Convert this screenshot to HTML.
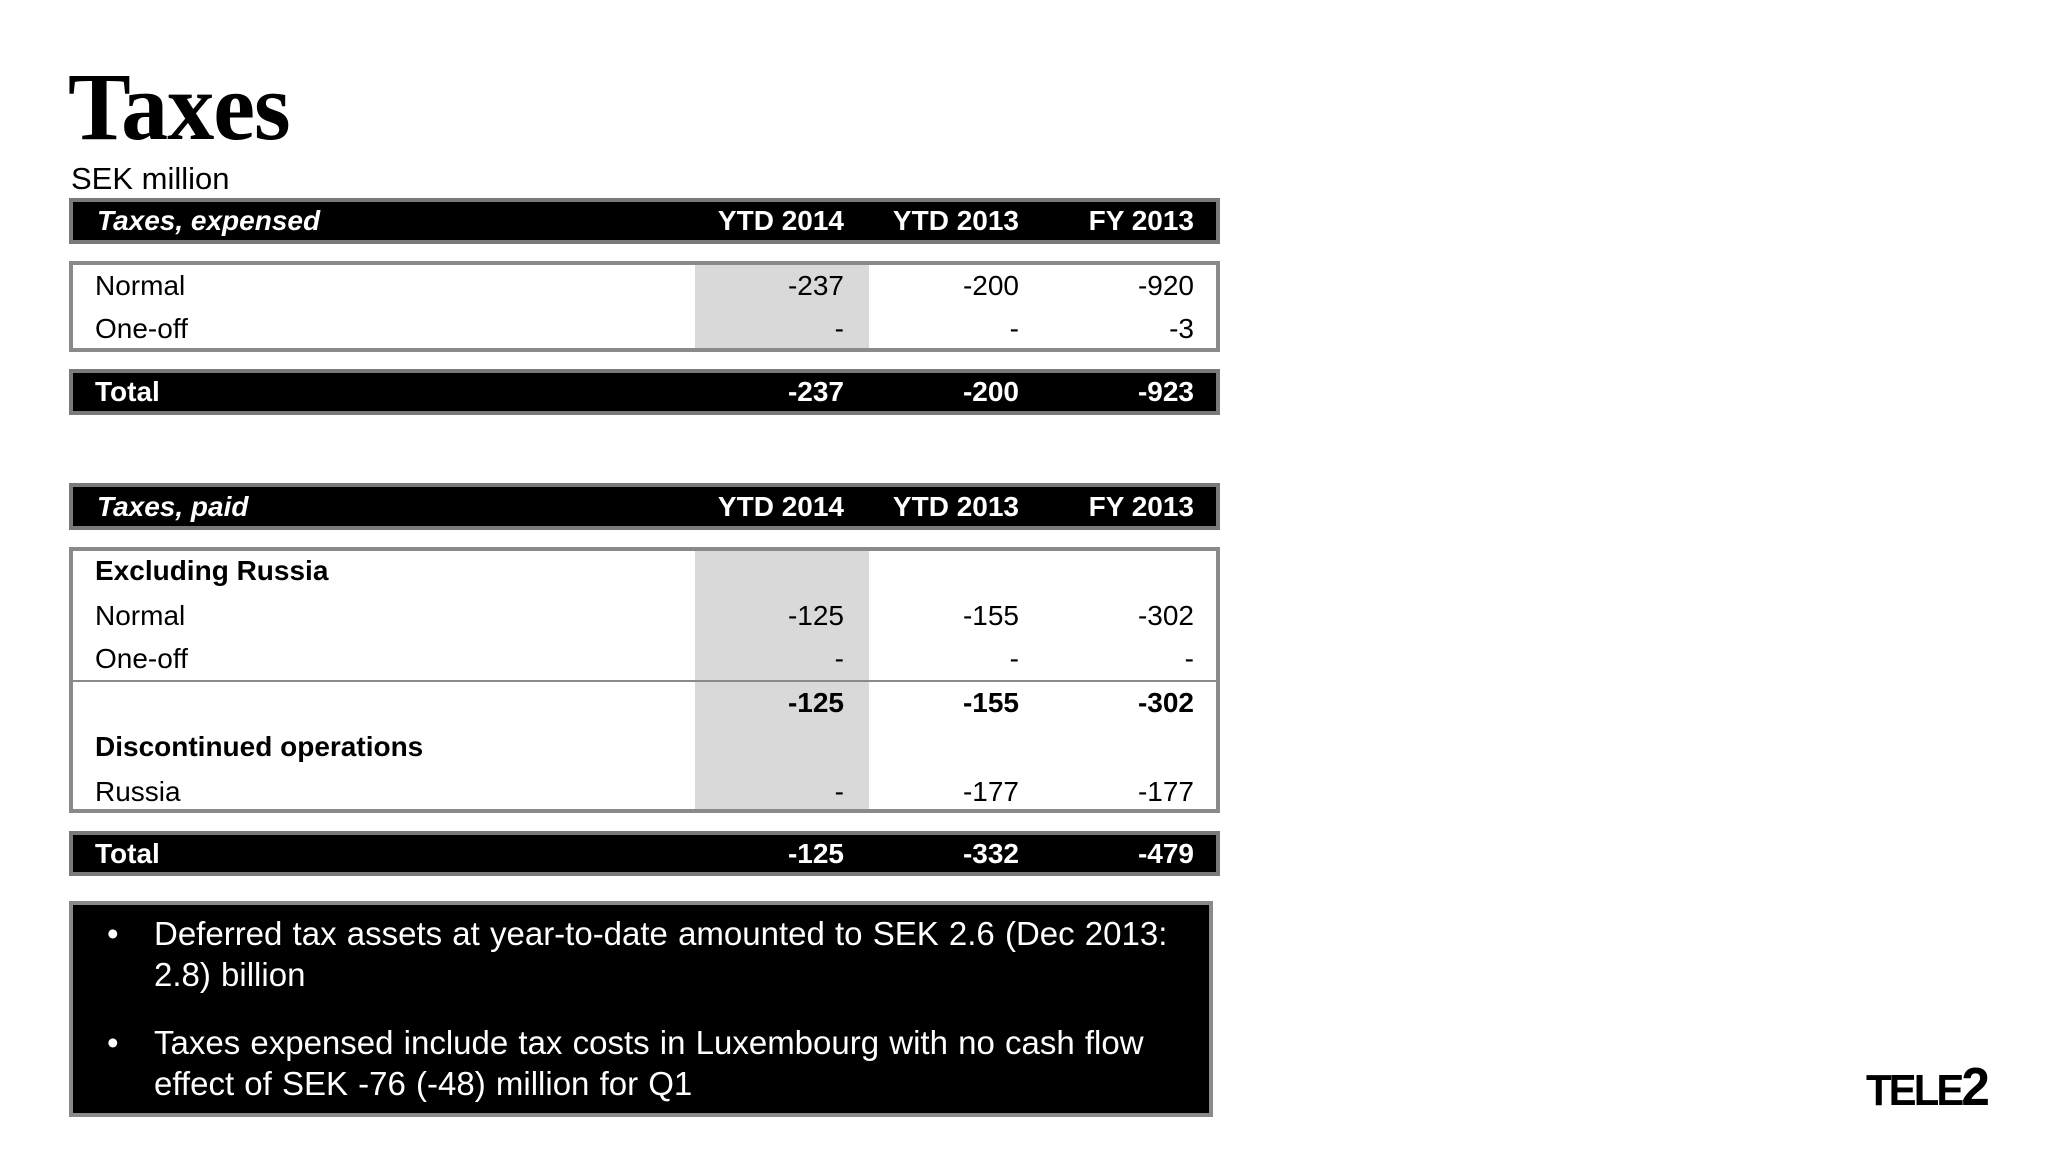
<!DOCTYPE html>
<html><head><meta charset="utf-8"><style>
body{margin:0;width:2048px;height:1152px;background:#fff;position:relative;overflow:hidden;font-family:"Liberation Sans",Arial,sans-serif;}
.a{position:absolute;}
.bar{position:absolute;left:69px;width:1143px;background:#000;border:4px solid #7a7a7a;}
.box{position:absolute;left:69px;width:1143px;background:#fff;border:4px solid #8a8a8a;}
.t{position:absolute;font-size:28px;line-height:34px;white-space:nowrap;}
.w{color:#fff;font-weight:bold;}
.r{text-align:right;width:200px;}
.b{font-weight:bold;}
.shade{position:absolute;left:695px;width:174px;background:#d9d9d9;}
.note{position:absolute;left:154px;color:#fff;font-size:33px;line-height:41px;word-spacing:1px;}
</style></head><body>
<div class="a" style="left:68px;top:52px;font-family:'Liberation Serif',serif;font-weight:bold;font-size:96px;line-height:110px;letter-spacing:-1px;transform:scaleX(0.98);transform-origin:left;">Taxes</div>
<div class="a" style="left:71px;top:161px;font-size:31px;line-height:36px;">SEK million</div>

<div class="bar" style="top:198px;height:38px;"></div>
<div class="t w" style="left:97px;top:204px;font-style:italic;">Taxes, expensed</div>
<div class="t w r" style="left:644px;top:204px;">YTD 2014</div>
<div class="t w r" style="left:819px;top:204px;">YTD 2013</div>
<div class="t w r" style="left:994px;top:204px;">FY 2013</div>

<div class="box" style="top:261px;height:83px;"></div>
<div class="shade" style="top:265px;height:83px;"></div>
<div class="t" style="left:95px;top:269px;">Normal</div>
<div class="t r" style="left:644px;top:269px;">-237</div>
<div class="t r" style="left:819px;top:269px;">-200</div>
<div class="t r" style="left:994px;top:269px;">-920</div>
<div class="t" style="left:95px;top:312px;">One-off</div>
<div class="t r" style="left:644px;top:312px;">-</div>
<div class="t r" style="left:819px;top:312px;">-</div>
<div class="t r" style="left:994px;top:312px;">-3</div>

<div class="bar" style="top:369px;height:38px;"></div>
<div class="t w" style="left:95px;top:375px;">Total</div>
<div class="t w r" style="left:644px;top:375px;">-237</div>
<div class="t w r" style="left:819px;top:375px;">-200</div>
<div class="t w r" style="left:994px;top:375px;">-923</div>

<div class="bar" style="top:483px;height:39px;"></div>
<div class="t w" style="left:97px;top:490px;font-style:italic;">Taxes, paid</div>
<div class="t w r" style="left:644px;top:490px;">YTD 2014</div>
<div class="t w r" style="left:819px;top:490px;">YTD 2013</div>
<div class="t w r" style="left:994px;top:490px;">FY 2013</div>

<div class="box" style="top:547px;height:258px;"></div>
<div class="shade" style="top:551px;height:258px;"></div>
<div class="a" style="left:73px;top:680px;width:1143px;height:2px;background:#8a8a8a;"></div>
<div class="t b" style="left:95px;top:554px;">Excluding Russia</div>
<div class="t" style="left:95px;top:599px;">Normal</div>
<div class="t r" style="left:644px;top:599px;">-125</div>
<div class="t r" style="left:819px;top:599px;">-155</div>
<div class="t r" style="left:994px;top:599px;">-302</div>
<div class="t" style="left:95px;top:642px;">One-off</div>
<div class="t r" style="left:644px;top:642px;">-</div>
<div class="t r" style="left:819px;top:642px;">-</div>
<div class="t r" style="left:994px;top:642px;">-</div>
<div class="t b r" style="left:644px;top:686px;">-125</div>
<div class="t b r" style="left:819px;top:686px;">-155</div>
<div class="t b r" style="left:994px;top:686px;">-302</div>
<div class="t b" style="left:95px;top:730px;">Discontinued operations</div>
<div class="t" style="left:95px;top:775px;">Russia</div>
<div class="t r" style="left:644px;top:775px;">-</div>
<div class="t r" style="left:819px;top:775px;">-177</div>
<div class="t r" style="left:994px;top:775px;">-177</div>

<div class="bar" style="top:831px;height:37px;"></div>
<div class="t w" style="left:95px;top:837px;">Total</div>
<div class="t w r" style="left:644px;top:837px;">-125</div>
<div class="t w r" style="left:819px;top:837px;">-332</div>
<div class="t w r" style="left:994px;top:837px;">-479</div>

<div class="a" style="left:69px;top:901px;width:1136px;height:208px;background:#000;border:4px solid #8a8a8a;"></div>
<div class="a" style="left:107px;top:913px;color:#fff;font-size:33px;line-height:41px;">•</div>
<div class="note" style="top:913px;width:1060px;">Deferred tax assets at year-to-date amounted to SEK 2.6 (Dec 2013: 2.8) billion</div>
<div class="a" style="left:107px;top:1022px;color:#fff;font-size:33px;line-height:41px;">•</div>
<div class="note" style="top:1022px;width:1030px;">Taxes expensed include tax costs in Luxembourg with no cash flow effect of SEK -76 (-48) million for Q1</div>

<div class="a" style="left:1866px;top:1062px;font-family:'Liberation Sans',sans-serif;font-weight:bold;font-size:44px;line-height:50px;letter-spacing:-3px;transform:scaleX(0.95);transform-origin:left;">TELE<span style="font-size:54px">2</span></div>
</body></html>
